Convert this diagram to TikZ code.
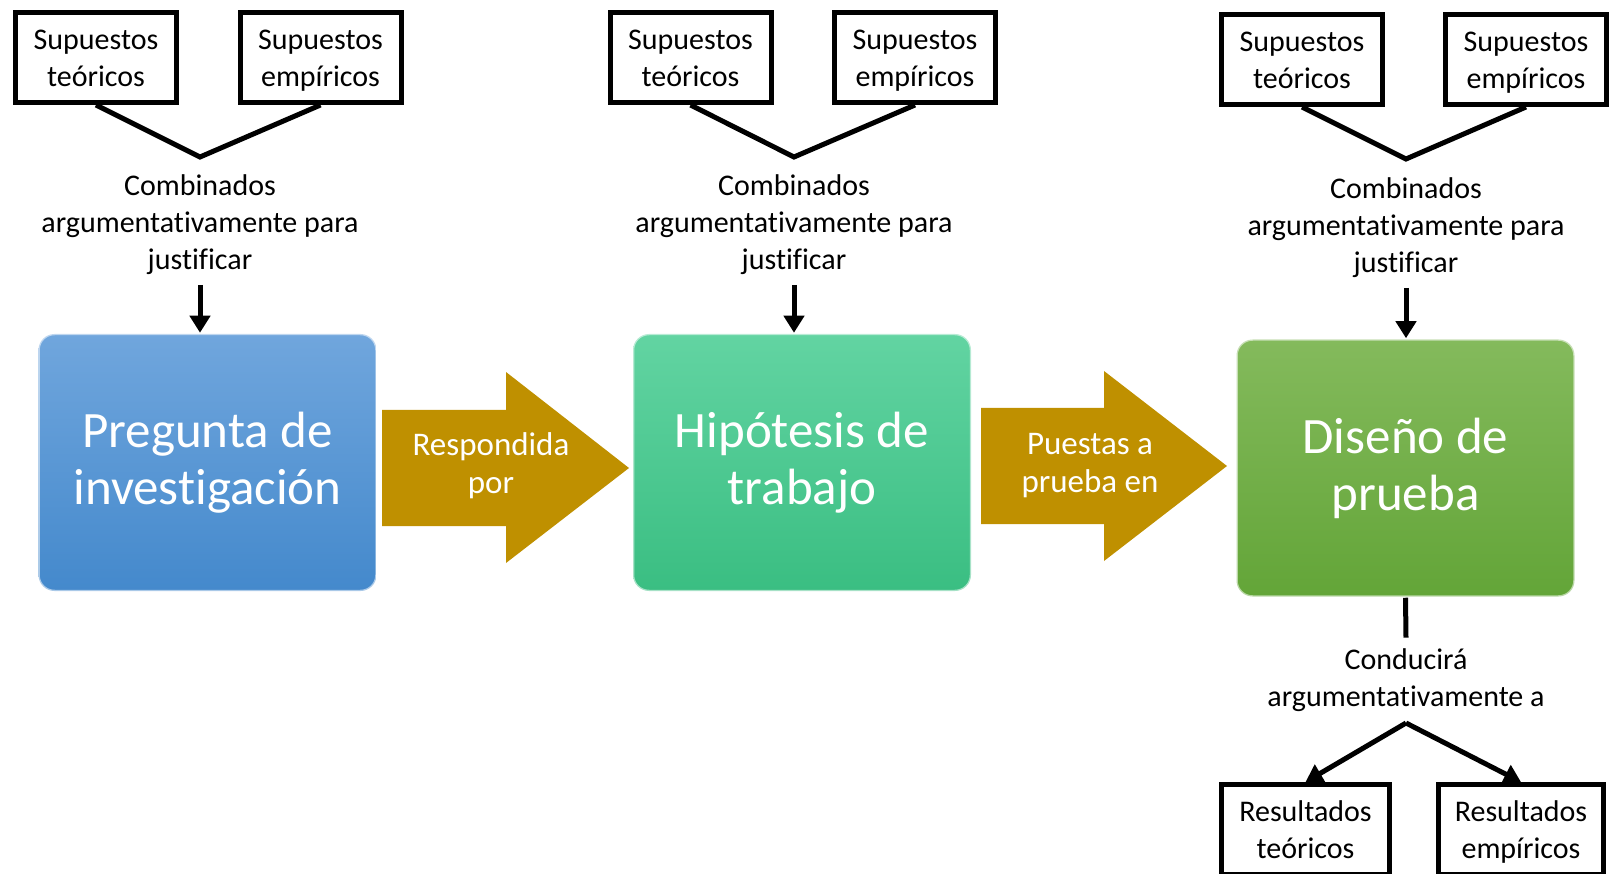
\documentclass[tikz,border=0pt]{standalone}
\usepackage{fontspec}
\setmainfont[Ligatures=NoCommon]{Carlito}
\usepackage{tikz}
\usetikzlibrary{arrows.meta}
\usetikzlibrary{positioning}
\definecolor{qtop}{RGB}{112,166,221}
\definecolor{qbot}{RGB}{68,137,204}
\definecolor{htop}{RGB}{98,212,162}
\definecolor{hbot}{RGB}{58,190,130}
\definecolor{dtop}{RGB}{132,186,92}
\definecolor{dbot}{RGB}{99,165,56}
\definecolor{oro}{RGB}{191,144,0}
\newcommand{\lin}{\rule[-5pt]{0pt}{31pt}}
\tikzset{supbox/.style = {draw, line width=5pt, minimum width=161pt, minimum height=90pt,
                          inner sep=0pt, align=center, font=\fontsize{30}{37}\selectfont},
         note/.style   = {align=center, inner sep=0pt, font=\fontsize{30}{37}\selectfont},
         stage/.style  = {rounded corners=16pt, minimum width=338pt, minimum height=257pt,
                          draw=white, draw opacity=0.55, line width=2.5pt,
                          align=center, text=white, font=\fontsize{51}{57}\selectfont},
         bridge/.style = {align=center, inner sep=0pt, text=white,
                          font=\fontsize{33}{38}\selectfont},
         link/.style   = {line width=5pt},
         push/.style   = {link, -{Triangle[length=17pt, width=20pt]}}}

\begin{document}
\begin{tikzpicture}[x=1pt, y=-1pt]
      \useasboundingbox (0, 0) rectangle (1609, 874);
      \clip (0, 0) rectangle (1609, 874);

      % etapas
      \node [stage, top color=qtop, bottom color=qbot] (preg) at (207.5, 462.5) {Pregunta de\\investigación};
      \node [stage, top color=htop, bottom color=hbot] (hipo) at (802, 462.5) {Hipótesis de\\trabajo};
      \node [stage, top color=dtop, bottom color=dbot] (dise) at (1405.5, 468) {Diseño de\\prueba};

      \fill [oro] (382, 410) -- (506, 410) -- (506, 372) -- (629, 468) -- (506, 563) -- (506, 526) -- (382, 526) -- cycle;
      \node [bridge] (resp) at (491, 467) {Respondida\strut\\por\strut};
      \fill [oro] (981, 408) -- (1104, 408) -- (1104, 371) -- (1227, 466) -- (1104, 561) -- (1104, 524) -- (981, 524) -- cycle;
      \node [bridge] (pues) at (1090, 466) {Puestas a\strut\\prueba en\strut};

      % supuestos de la pregunta
      \node [supbox] (teo1) at (96, 57.5) {Supuestos\lin\\teóricos\lin};
      \node [supbox] (emp1) at (320.5, 57.5) {Supuestos\lin\\empíricos\lin};
      \coordinate (v1) at (200, 157);
      \draw [link] (teo1.south) -- (v1) -- (emp1.south);
      \node [note] (comb1) at (200, 222) {Combinados\lin\\argumentativamente para\lin\\justificar\lin};
      \draw [push] ([yshift=-10pt]comb1.south) -- (comb1.south |- preg.north);

      % supuestos de la hipotesis
      \node [supbox] (teo2) at (690.5, 57.5) {Supuestos\lin\\teóricos\lin};
      \node [supbox] (emp2) at (915, 57.5) {Supuestos\lin\\empíricos\lin};
      \coordinate (v2) at (794, 157);
      \draw [link] (teo2.south) -- (v2) -- (emp2.south);
      \node [note] (comb2) at (794, 222) {Combinados\lin\\argumentativamente para\lin\\justificar\lin};
      \draw [push] ([yshift=-10pt]comb2.south) -- (comb2.south |- hipo.north);

      % supuestos del diseno
      \node [supbox] (teo3) at (1302, 59.5) {Supuestos\lin\\teóricos\lin};
      \node [supbox] (emp3) at (1526, 59.5) {Supuestos\lin\\empíricos\lin};
      \coordinate (v3) at (1406, 159);
      \draw [link] (teo3.south) -- (v3) -- (emp3.south);
      \node [note] (comb3) at (1406, 225) {Combinados\lin\\argumentativamente para\lin\\justificar\lin};
      \draw [push] ([yshift=-10pt]comb3.south) -- (comb3.south |- dise.north);

      % resultados
      \node [note] (cond) at (1406, 678) {Conducirá\lin\\argumentativamente a\lin};
      \draw [link] (dise.south) -- ([yshift=6pt]cond.north);
      \coordinate (v4) at (1406, 723);
      \node [supbox, minimum width=168pt] (rteo) at (1305.5, 829.5) {Resultados\lin\\teóricos\lin};
      \node [supbox, minimum width=165pt] (remp) at (1521, 829.5) {Resultados\lin\\empíricos\lin};
      \draw [push] (v4) -- (rteo.north);
      \draw [push] (v4) -- (remp.north);
\end{tikzpicture}
\end{document}
